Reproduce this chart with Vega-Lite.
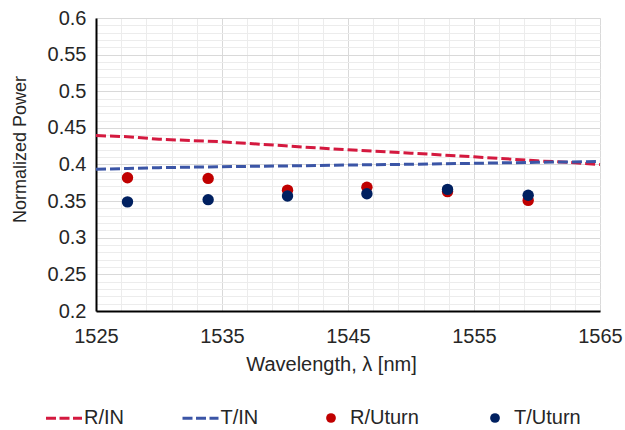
{
  "$schema": "https://vega.github.io/schema/vega-lite/v6.json",
  "width": 504,
  "height": 293,
  "autosize": {"type": "none"},
  "padding": {"left": 96, "top": 18, "right": 25, "bottom": 119},
  "config": {
    "font": "Liberation Sans",
    "view": {"stroke": "#d9d9d9", "strokeWidth": 1}
  },
  "datasets": {
    "lines": [
      {"series": "R/IN", "wl": 1525, "value": 0.4395},
      {"series": "R/IN", "wl": 1527.5, "value": 0.438},
      {"series": "R/IN", "wl": 1530, "value": 0.4345},
      {"series": "R/IN", "wl": 1535, "value": 0.431},
      {"series": "R/IN", "wl": 1540, "value": 0.4255},
      {"series": "R/IN", "wl": 1545, "value": 0.42},
      {"series": "R/IN", "wl": 1550, "value": 0.4155},
      {"series": "R/IN", "wl": 1555, "value": 0.4105},
      {"series": "R/IN", "wl": 1560, "value": 0.405},
      {"series": "R/IN", "wl": 1562.5, "value": 0.403},
      {"series": "R/IN", "wl": 1565, "value": 0.4},
      {"series": "T/IN", "wl": 1525, "value": 0.3935},
      {"series": "T/IN", "wl": 1527.5, "value": 0.3945},
      {"series": "T/IN", "wl": 1530, "value": 0.3957},
      {"series": "T/IN", "wl": 1535, "value": 0.397},
      {"series": "T/IN", "wl": 1540, "value": 0.398},
      {"series": "T/IN", "wl": 1545, "value": 0.3993},
      {"series": "T/IN", "wl": 1550, "value": 0.4003},
      {"series": "T/IN", "wl": 1555, "value": 0.4016},
      {"series": "T/IN", "wl": 1560, "value": 0.403},
      {"series": "T/IN", "wl": 1565, "value": 0.404}
    ],
    "points": [
      {"series": "R/Uturn", "wl": 1527.5, "value": 0.382},
      {"series": "R/Uturn", "wl": 1533.9, "value": 0.381},
      {"series": "R/Uturn", "wl": 1540.2, "value": 0.365},
      {"series": "R/Uturn", "wl": 1546.5, "value": 0.369},
      {"series": "R/Uturn", "wl": 1552.9, "value": 0.363},
      {"series": "R/Uturn", "wl": 1559.3, "value": 0.351},
      {"series": "T/Uturn", "wl": 1527.5, "value": 0.349},
      {"series": "T/Uturn", "wl": 1533.9, "value": 0.352},
      {"series": "T/Uturn", "wl": 1540.2, "value": 0.357},
      {"series": "T/Uturn", "wl": 1546.5, "value": 0.36},
      {"series": "T/Uturn", "wl": 1552.9, "value": 0.366},
      {"series": "T/Uturn", "wl": 1559.3, "value": 0.358}
    ]
  },
  "layer": [
    {
      "data": {"name": "lines"},
      "mark": {"type": "line", "strokeWidth": 3, "strokeDash": [10, 4]},
      "encoding": {
        "x": {
          "field": "wl", "type": "quantitative",
          "scale": {"domain": [1525, 1565], "nice": false, "zero": false},
          "axis": {
            "orient": "bottom", "title": null, "labels": false, "ticks": false, "domain": false,
            "grid": true, "gridColor": "#ececec", "gridWidth": 1,
            "values": [1525,1527,1529,1531,1533,1535,1537,1539,1541,1543,1545,1547,1549,1551,1553,1555,1557,1559,1561,1563,1565]
          }
        },
        "y": {
          "field": "value", "type": "quantitative",
          "scale": {"domain": [0.2, 0.6], "nice": false, "zero": false},
          "axis": {
            "orient": "left", "title": null, "labels": false, "ticks": false, "domain": false,
            "grid": true, "gridColor": "#ececec", "gridWidth": 1,
            "values": [0.2,0.21,0.22,0.23,0.24,0.25,0.26,0.27,0.28,0.29,0.3,0.31,0.32,0.33,0.34,0.35,0.36,0.37,0.38,0.39,0.4,0.41,0.42,0.43,0.44,0.45,0.46,0.47,0.48,0.49,0.5,0.51,0.52,0.53,0.54,0.55,0.56,0.57,0.58,0.59,0.6]
          }
        },
        "color": {
          "field": "series", "type": "nominal",
          "scale": {"domain": ["R/IN", "T/IN"], "range": ["#d4193f", "#3b55a6"]},
          "legend": {
            "orient": "none", "direction": "horizontal", "legendX": -51.5, "legendY": 380.5,
            "title": null, "symbolType": "stroke", "symbolSize": 1296, "symbolStrokeWidth": 3,
            "symbolDash": [10, 3.5], "symbolOpacity": 1,
            "labelFontSize": 20, "labelColor": "#262626", "labelOffset": 0.5, "columnPadding": 51.5,
            "labelFont": "Liberation Sans"
          }
        }
      }
    },
    {
      "data": {"name": "points"},
      "mark": {"type": "circle", "size": 130, "opacity": 1},
      "encoding": {
        "x": {
          "field": "wl", "type": "quantitative",
          "axis": {
            "orient": "bottom", "values": [1525, 1535, 1545, 1555, 1565], "format": "d",
            "grid": true, "gridColor": "#d9d9d9", "gridWidth": 1, "labelFlush": false,
            "domainColor": "#000000", "domainWidth": 2, "ticks": false,
            "labelFontSize": 20, "labelPadding": 15, "labelColor": "#262626",
            "title": "Wavelength, λ [nm]", "titleFontSize": 20, "titleFontWeight": "normal",
            "titleColor": "#262626", "titleX": 235, "titleY": 59, "titleBaseline": "alphabetic", "titleAlign": "center"
          }
        },
        "y": {
          "field": "value", "type": "quantitative",
          "axis": {
            "orient": "left", "values": [0.2, 0.25, 0.3, 0.35, 0.4, 0.45, 0.5, 0.55, 0.6], "format": ".2~f",
            "grid": true, "gridColor": "#d9d9d9", "gridWidth": 1,
            "domainColor": "#000000", "domainWidth": 2, "ticks": false,
            "labelFontSize": 20, "labelPadding": 10, "labelColor": "#262626",
            "title": "Normalized Power", "titleFontSize": 18, "titleFontWeight": "normal",
            "titleColor": "#262626", "titleX": -70.5, "titleY": 131, "titleBaseline": "alphabetic", "titleAlign": "center", "titleAngle": -90
          }
        },
        "color": {
          "field": "series", "type": "nominal",
          "scale": {"domain": ["R/Uturn", "T/Uturn"], "range": ["#c00000", "#002060"]},
          "legend": {
            "orient": "none", "direction": "horizontal", "legendX": 225, "legendY": 390,
            "title": null, "symbolType": "circle", "symbolSize": 95, "symbolStrokeWidth": 0,
            "symbolOpacity": 1,
            "labelFontSize": 20, "labelColor": "#262626", "labelOffset": 9, "columnPadding": 66,
            "labelFont": "Liberation Sans"
          }
        }
      }
    }
  ],
  "resolve": {"axis": {"x": "independent", "y": "independent"}, "scale": {"color": "independent"}}
}
